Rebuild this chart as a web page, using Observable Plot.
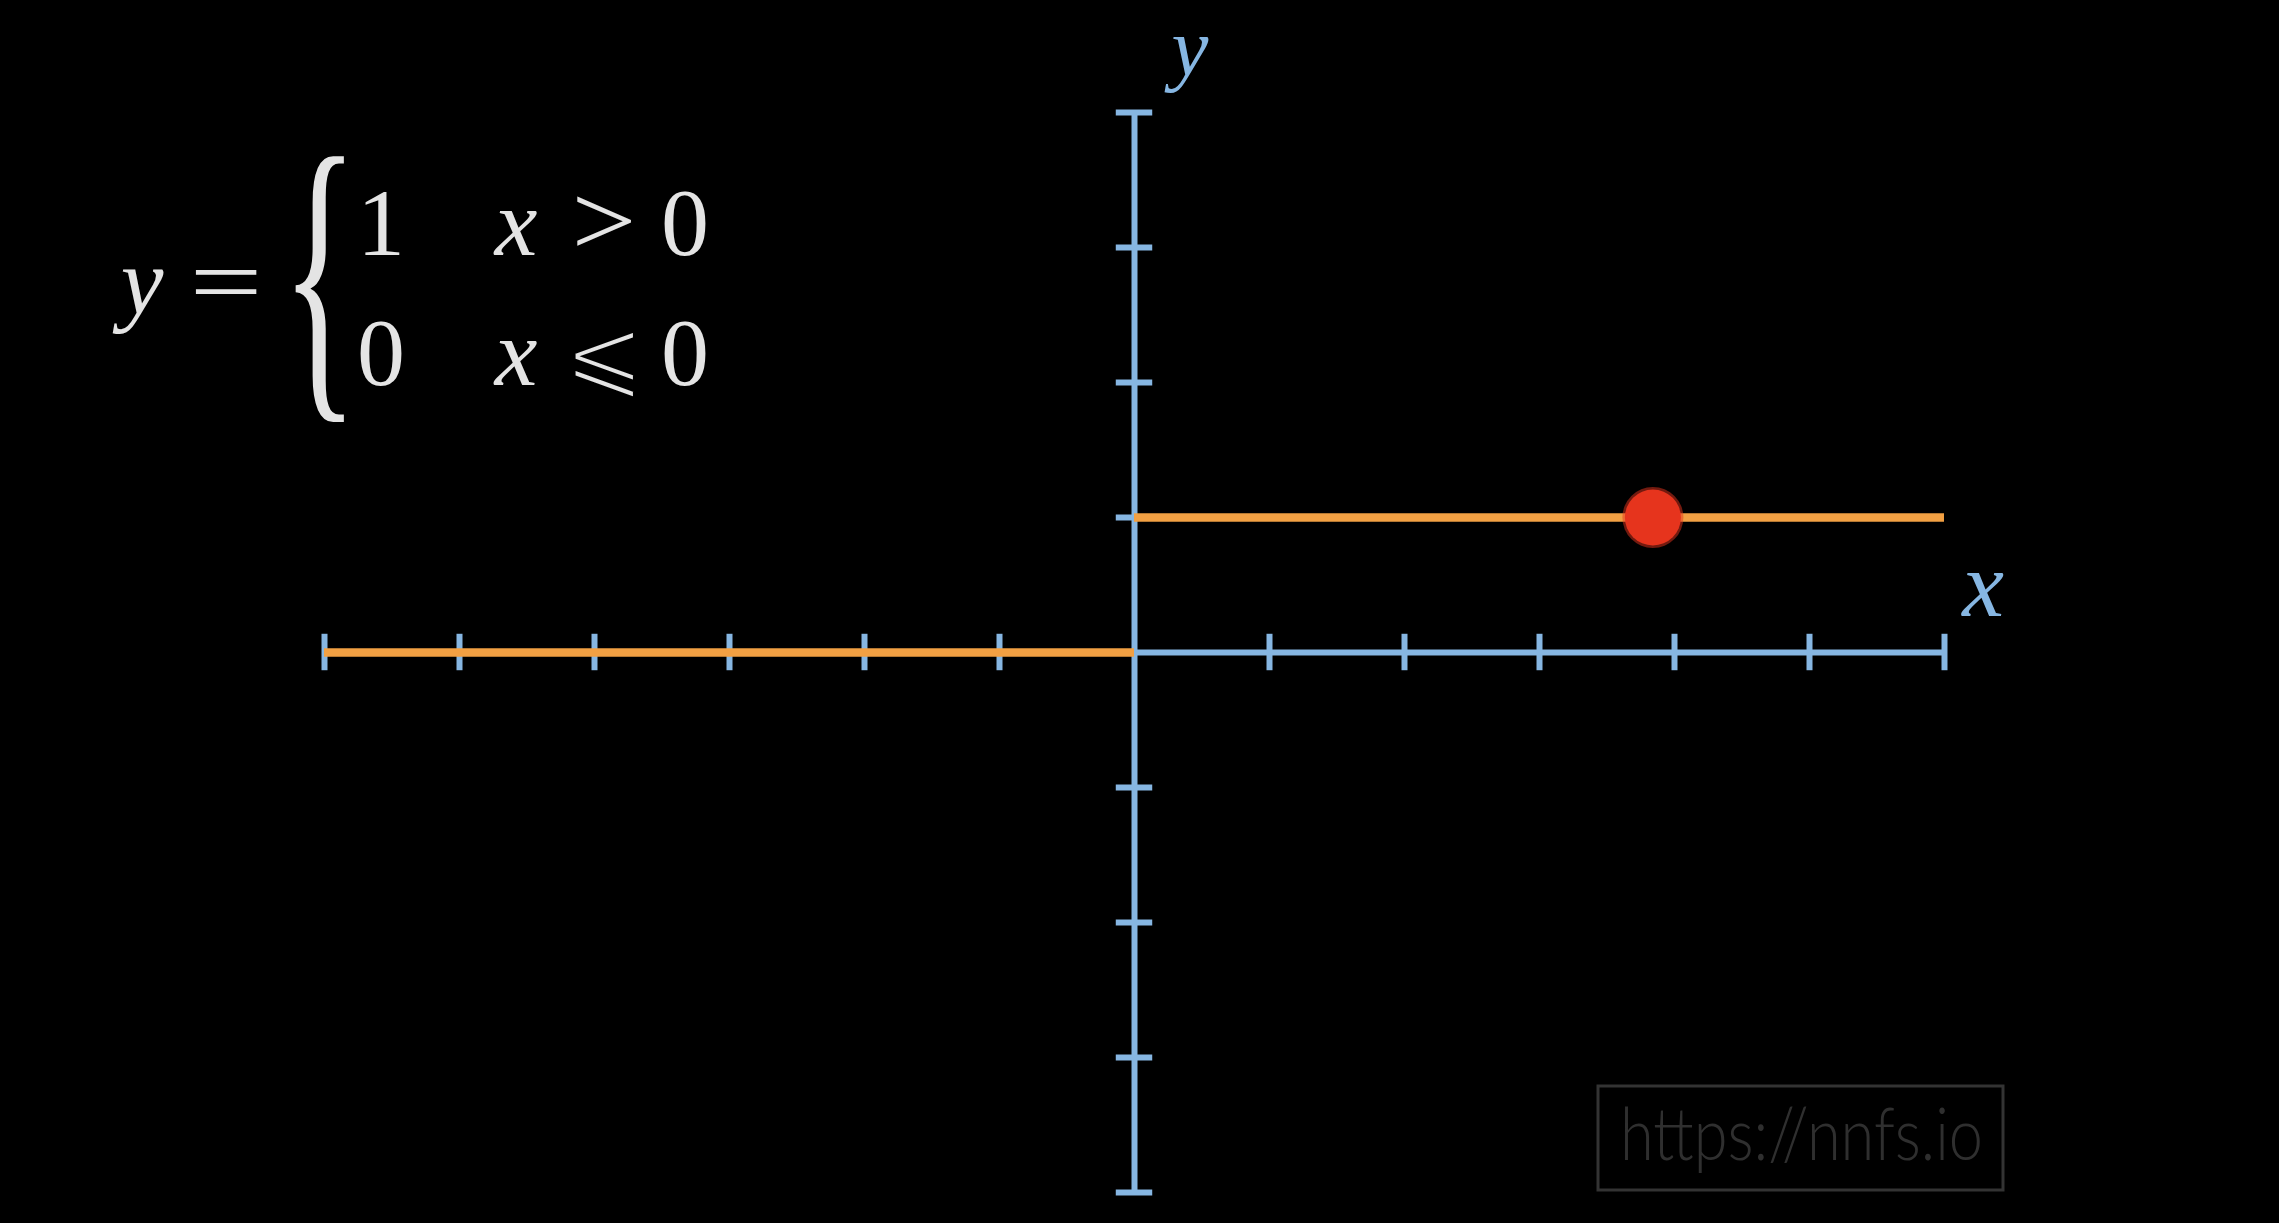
<!DOCTYPE html>
<html>
<head>
<meta charset="utf-8">
<script src="https://cdn.jsdelivr.net/npm/d3@7"></script>
<script src="https://cdn.jsdelivr.net/npm/@observablehq/plot@0.6"></script>
<style>
  html, body { margin: 0; padding: 0; background: #000; overflow: hidden; }
  #wrap { position: relative; width: 2279px; height: 1223px; background: #000; }
  #wrap > svg { position: absolute; left: 0; top: 0; }
  #overlay { position: absolute; left: 0; top: 0; pointer-events: none; }
</style>
</head>
<body>
<div id="wrap"></div>
<script>
// ---- data ----
const xTicks = [-6, -5, -4, -3, -2, -1, 1, 2, 3, 4, 5, 6];
const yTicks = [-4, -3, -2, -1, 1, 2, 3, 4];
const xExtent = [-6, 6];
const yExtent = [-4, 4];
const stepX1 = [-6, 0];
const stepX2 = [0, 6];
const stepY = [0, 1];
const pointX = [3.84];
const pointY = [1];

// ---- styles ----
const W = 2279, H = 1223;
const BLUE = "#86b6e2";
const ORANGE = "#f2a043";
const RED = "#e6341d";
const TICK = 0.135; // half tick length in axis units

const segments = stepX1.map((x1, i) => ({x1, x2: stepX2[i], y: stepY[i]}));
const points = pointX.map((x, i) => ({x, y: pointY[i]}));

const plot = Plot.plot({
  width: W,
  height: H,
  margin: 0,
  style: {background: "#000"},
  x: {domain: [-8.4, 8.4815], range: [0, W], axis: null},
  y: {domain: [-4.2296, 4.8296], range: [H, 0], axis: null},
  marks: [
    Plot.ruleY([0], {x1: xExtent[0], x2: xExtent[1], stroke: BLUE, strokeWidth: 6}),
    Plot.ruleX([0], {y1: yExtent[0], y2: yExtent[1], stroke: BLUE, strokeWidth: 6}),
    Plot.ruleX(xTicks, {x: d => d, y1: -TICK, y2: TICK, stroke: BLUE, strokeWidth: 6}),
    Plot.ruleY(yTicks, {y: d => d, x1: -TICK, x2: TICK, stroke: BLUE, strokeWidth: 6}),
    Plot.ruleY(segments, {y: "y", x1: "x1", x2: "x2", stroke: ORANGE, strokeWidth: 8.5}),
    Plot.dot(points, {x: "x", y: "y", r: 30.5, fill: RED, fillOpacity: 0.5}),
    Plot.dot(points, {x: "x", y: "y", r: 28, fill: RED})
  ]
});
document.getElementById("wrap").appendChild(plot);

// ---- text overlay (formula, axis labels, watermark) ----
const NS = "http://www.w3.org/2000/svg";
const ov = document.createElementNS(NS, "svg");
ov.setAttribute("id", "overlay");
ov.setAttribute("width", W);
ov.setAttribute("height", H);
document.getElementById("wrap").appendChild(ov);

function txt(str, x, y, opts = {}) {
  const t = document.createElementNS(NS, "text");
  t.textContent = str;
  t.setAttribute("x", x);
  t.setAttribute("y", y);
  t.setAttribute("text-anchor", opts.anchor || "middle");
  t.setAttribute("font-family", opts.family || "'Liberation Serif', 'DejaVu Serif', serif");
  t.setAttribute("font-size", opts.size || 96);
  if (opts.italic) t.setAttribute("font-style", "italic");
  if (opts.weight) t.setAttribute("font-weight", opts.weight);
  t.setAttribute("fill", opts.fill || "#e4e4e4");
  if (opts.stroke) { t.setAttribute("stroke", opts.stroke); t.setAttribute("stroke-width", opts.strokeWidth); }
  if (opts.transform) t.setAttribute("transform", opts.transform);
  if (opts.textLength) { t.setAttribute("textLength", opts.textLength); t.setAttribute("lengthAdjust", "spacingAndGlyphs"); }
  ov.appendChild(t);
  return t;
}

const FS = 96;
// y =
txt("y", 142, 314, {italic: true, size: FS});
txt("=", 0, 0, {size: FS, transform: "translate(226,314) scale(1.35,1)"});
// brace (stretched glyph)
txt("{", 0, 0, {size: 190, anchor: "start", transform: "translate(281,379) scale(0.85,1.69)"});
// row 1
txt("1", 381, 255, {size: FS});
txt("x", 516, 255, {italic: true, size: FS});
txt(">", 0, 0, {size: FS, transform: "translate(604,255) scale(1.2,1.05)"});
txt("0", 685, 255, {size: FS});
// row 2
txt("0", 381, 385, {size: FS});
txt("x", 516, 385, {italic: true, size: FS});
txt("\u2A7D", 604, 387, {size: 98, family: "'DejaVu Sans', 'DejaVu Serif', sans-serif", stroke: "#000", strokeWidth: 4});
txt("0", 685, 385, {size: FS});

// axis labels
txt("y", 1190, 75, {italic: true, size: 83, fill: BLUE});
txt("x", 1983, 616, {italic: true, size: 94, fill: BLUE});

// watermark
const r = document.createElementNS(NS, "rect");
r.setAttribute("x", 1598); r.setAttribute("y", 1086);
r.setAttribute("width", 405); r.setAttribute("height", 104);
r.setAttribute("fill", "none"); r.setAttribute("stroke", "#333");
r.setAttribute("stroke-width", 3);
ov.appendChild(r);
txt("https://nnfs.io", 1620, 1160, {anchor: "start", family: "Lato, 'Open Sans', sans-serif", weight: 300, size: 72, fill: "#2f2f2f", textLength: 363});
</script>
</body>
</html>
